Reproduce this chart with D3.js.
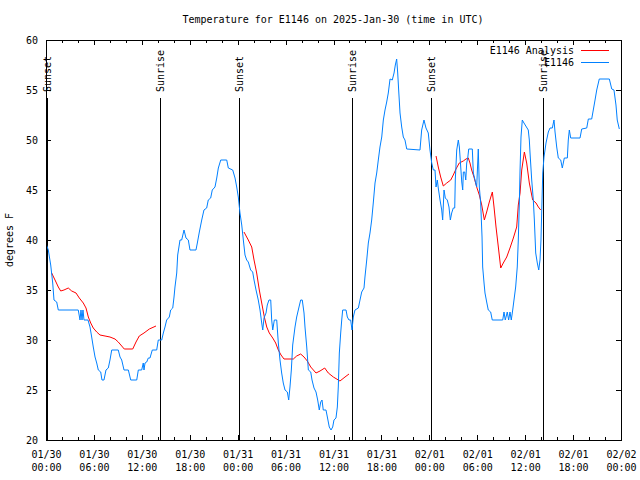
<!DOCTYPE html>
<html>
<head>
<meta charset="utf-8">
<script src="https://cdn.jsdelivr.net/npm/d3@7"></script>
<style>
  html, body { margin: 0; padding: 0; background: #fff; }
  svg { display: block; }
  text { font-family: "DejaVu Sans Mono", "Liberation Mono", monospace; font-size: 10px; fill: #000; }
</style>
</head>
<body>
<svg id="chart" width="640" height="480"></svg>
<script>
// ---------- DATA ----------
const chartTitle = "Temperature for E1146 on 2025-Jan-30 (time in UTC)";
const yAxisLabel = "degrees F";
const startUTC = Date.UTC(2025, 0, 30, 0, 0);
const spanHours = 72;
const yTickValues = [20, 25, 30, 35, 40, 45, 50, 55, 60];
const seriesNames = ["E1146 Analysis", "E1146"];

// Observations (hours after 01/30 00:00 UTC, deg F)
const obsHours = [0.06,0.29,0.59,0.84,1.0,1.34,1.54,4.04,4.26,4.38,4.51,4.63,4.76,5.26,5.51,5.72,5.92,6.14,6.35,6.55,6.85,7.01,7.26,7.51,7.8,8.01,8.23,9.05,9.27,9.48,9.77,10.31,10.61,11.36,11.56,11.98,12.18,12.27,12.4,12.61,12.81,13.02,13.31,13.86,14.06,14.49,14.69,14.9,15.11,15.44,15.61,15.87,16.03,16.15,16.37,16.49,16.78,16.99,17.28,17.53,17.82,18.03,18.78,18.95,19.2,19.5,19.78,20.12,20.32,20.62,20.82,21.16,21.38,21.58,21.88,22.63,22.83,23.38,23.67,23.88,24.08,24.29,24.51,24.71,24.92,25.13,25.33,25.63,25.88,26.05,26.3,26.58,26.8,27.01,27.14,27.3,27.55,27.71,27.92,28.14,28.26,28.39,28.59,28.89,29.09,29.3,29.51,29.71,29.93,30.22,30.39,30.55,30.72,30.89,31.18,31.39,31.68,31.89,32.09,32.31,32.43,32.65,32.85,33.15,33.31,33.56,33.81,34.02,34.22,34.4,34.56,34.72,35.06,35.23,35.47,35.69,35.9,36.06,36.31,36.48,36.6,36.73,36.9,37.03,37.15,37.57,37.73,37.94,38.15,38.32,38.48,38.69,39.11,39.32,39.53,39.82,39.94,40.16,40.36,40.57,40.78,40.98,41.2,41.41,41.61,41.82,42.04,42.24,42.45,42.66,42.86,43.08,43.36,43.58,43.74,43.91,44.04,44.16,44.33,44.54,44.74,44.95,45.17,46.83,47.04,47.33,47.58,47.87,48.08,48.3,48.5,48.71,48.84,49.0,49.12,49.34,49.55,49.67,49.84,50.0,50.25,50.46,50.63,50.8,51.0,51.18,51.25,51.43,51.63,51.76,51.93,52.06,52.18,52.26,52.43,52.56,52.68,52.81,52.93,53.38,53.51,53.72,53.93,54.13,54.26,54.43,54.6,54.68,54.85,54.97,55.18,55.38,55.68,55.88,57.19,57.35,57.51,57.76,57.93,58.1,58.26,58.44,58.6,58.81,59.01,59.14,59.27,59.36,59.48,59.64,59.85,60.39,60.52,60.61,60.82,61.02,61.15,61.32,61.52,61.7,61.86,61.98,62.11,62.2,62.36,62.61,62.9,63.11,63.4,63.61,63.74,63.95,64.15,64.45,64.65,64.9,65.28,65.4,65.53,65.7,66.87,67.08,67.71,67.91,68.33,68.53,68.75,68.96,69.28,70.54,70.84,71.12,71.37,71.53,71.79];
const obsTemps = [39.5,39,37.5,35.7,34,33.8,33,33,32,33,32,33,32,32,31.3,30.3,29.3,28.3,27.7,27,26.8,26,26,27,27.2,28,29,29,28.3,28,27,27,26,26,27,27,27.7,27,27.7,27.8,28.2,28.2,29,29,30,30,30.7,31.3,32,32.3,33,33.2,34.3,35.3,36.7,38.5,40,40,41,40.2,40,39,39,39.7,40.8,42,43,43.2,44,44.2,45,45.3,46.2,47.2,48,48,47.2,47,46.2,45.3,44.3,42.7,41.5,40,38.5,38,37.8,37,36.8,36,35,34,33,31.7,31,32.2,32.7,33.5,34,34,32,31,32,32,29.7,28,26.7,25.7,25,24.8,24,25.3,27,29.5,31.3,32.3,33.3,34,34,32.7,31.3,29.3,27,26.8,26,25.2,24.8,24,23,23.8,24,23,23,22.3,21.3,21,21.3,22,22.2,23.3,25.3,28.7,30.7,32,33,33,32.3,32,32,31,32.3,33,33.2,34,34.8,35.2,36.3,38,39.7,40.7,42,43.7,45.7,46.7,48,49.3,50.3,52,53,53.8,54.7,56.1,56,56.7,57.5,58.1,56.7,55,52.7,51.3,50.3,50,49.1,49,51,52,51.2,50.7,49,47.7,47,47,45.3,46,45.2,44,43,42,45,44.2,44,43.3,42,42.7,43.2,43.2,46,49,50,49.3,47.3,45.8,45,46.8,46.8,46,47.7,48.2,49.1,49.1,46.7,46,45.3,49.1,45.3,43.7,40.3,37.3,35.7,34.7,33.8,33,32.8,32,32,32.8,32,32.8,32,32.8,32,33,34,35.3,37.3,40,43.7,47,50.3,52,51.7,51,50,48.7,46,44,42,38.7,37.7,37,38,40,44,46.7,48.3,49.7,50.8,51.2,51.2,52,50.8,49.3,48.2,48,47.2,48.2,48.2,50,51,50.2,50.2,51.1,51.2,52.1,52.1,53,54,55,56.1,56.1,55.1,55,53.5,52,51.1];

// Analysis (night-time only; null separates the nights)
const anaHours = [0.71,1.13,1.54,1.84,2.25,2.79,3.22,3.76,4.17,4.67,5.01,5.3,5.6,5.92,6.35,6.76,7.39,8.01,8.64,9.05,9.48,9.8,10.86,11.27,11.68,12.27,12.94,13.77,
  null,
  24.79,25.33,25.76,26.05,26.38,26.71,27.01,27.34,27.64,27.96,28.39,28.76,29.09,29.43,29.8,30.97,31.39,31.89,32.31,32.72,33.15,33.81,34.31,34.9,35.35,35.98,36.81,37.44,37.94,
  null,
  48.84,49.12,49.42,49.75,50.18,50.68,51.0,51.34,51.75,52.25,52.59,52.88,53.09,53.3,53.59,53.93,54.26,54.56,54.89,55.18,55.51,55.89,56.1,56.35,56.64,56.94,57.26,57.69,58.1,58.52,58.94,59.14,59.36,59.57,59.9,60.19,60.52,60.94,61.36,61.65,61.95];
const anaTemps = [36.7,36,35.3,34.9,35,35.2,34.9,34.7,34.2,33.7,33.2,32.3,31.7,31.2,30.8,30.5,30.4,30.3,30.1,29.8,29.4,29.1,29.1,29.8,30.4,30.7,31.1,31.4,
  null,
  40.8,40,39.3,38,36.7,35,33.7,32.3,31.3,30.7,30.2,29.7,29,28.5,28.1,28.1,28.4,28.6,28.3,27.9,27.3,26.7,26.9,27.2,26.7,26.3,25.9,26.3,26.6,
  null,
  48.4,47.3,46.3,45.4,45.7,46,46.5,47.1,47.7,47.9,48.1,48.2,47.7,47,46.3,45.3,44.5,43.5,42,42.8,43.8,44.8,43.3,41.3,39.3,37.2,37.7,38.3,39.2,40.2,41.3,43.5,44.7,47,48.8,47.7,45.7,44,43.7,43.3,43];

// Sun events (hours after start)
const sunEventHours = [0.12, 14.33, 24.15, 38.29, 48.18, 62.26];
const sunEventNames = ["Sunset", "Sunrise", "Sunset", "Sunrise", "Sunset", "Sunrise"];

// ---------- DRAW ----------
const plot = { left: 46, right: 621, top: 40, bottom: 440 };
const colors = { analysis: "#ff0000", obs: "#0080ff" };
const svg = d3.select("#chart");
const hourMs = 3600 * 1000;
const toDate = h => new Date(startUTC + h * hourMs);

const x = d3.scaleUtc().domain([toDate(0), toDate(spanHours)]).range([plot.left, plot.right]);
const y = d3.scaleLinear().domain([20, 60]).range([plot.bottom, plot.top]);

const majorTicks = d3.utcHour.every(6).range(toDate(0), toDate(spanHours + 0.01));
const minorTicks = d3.utcHour.every(2).range(toDate(0), toDate(spanHours + 0.01));

function styleAxis(g) {
  g.select(".domain").remove();
  g.selectAll("line").attr("stroke", "#000").attr("shape-rendering", "crispEdges");
  g.attr("font-family", null).attr("font-size", null);
}

// minor x ticks (bottom & top)
svg.append("g").attr("transform", `translate(0,${plot.bottom})`)
  .call(d3.axisBottom(x).tickValues(minorTicks).tickSize(-3).tickFormat(""))
  .call(styleAxis);
svg.append("g").attr("transform", `translate(0,${plot.top})`)
  .call(d3.axisTop(x).tickValues(minorTicks).tickSize(-3).tickFormat(""))
  .call(styleAxis);

// major x ticks + labels
const fmtDay = d3.utcFormat("%m/%d"), fmtTime = d3.utcFormat("%H:%M");
const xb = svg.append("g").attr("transform", `translate(0,${plot.bottom})`)
  .call(d3.axisBottom(x).tickValues(majorTicks).tickSize(-5).tickPadding(0).tickFormat(""))
  .call(styleAxis);
xb.selectAll(".tick text").remove();
xb.selectAll(".tick").append("text")
  .attr("text-anchor", "middle")
  .each(function(d) {
    const t = d3.select(this);
    t.append("tspan").attr("x", 0).attr("y", 18).text(fmtDay(d));
    t.append("tspan").attr("x", 0).attr("y", 31).text(fmtTime(d));
  });
svg.append("g").attr("transform", `translate(0,${plot.top})`)
  .call(d3.axisTop(x).tickValues(majorTicks).tickSize(-5).tickFormat(""))
  .call(styleAxis);

// y axes
const yl = svg.append("g").attr("transform", `translate(${plot.left},0)`)
  .call(d3.axisLeft(y).tickValues(yTickValues).tickSize(-5).tickPadding(12))
  .call(styleAxis);
yl.selectAll(".tick text").attr("x", -8).attr("dy", "0.35em").attr("text-anchor", "end");
svg.append("g").attr("transform", `translate(${plot.right},0)`)
  .call(d3.axisRight(y).tickValues(yTickValues).tickSize(-5).tickFormat(""))
  .call(styleAxis);

// sunrise / sunset markers
const sun = svg.append("g");
sunEventHours.forEach((h, i) => {
  const sx = Math.round(x(toDate(h))) + 0.5;
  sun.append("line").attr("x1", sx).attr("x2", sx)
    .attr("y1", plot.top + 58).attr("y2", plot.bottom)
    .attr("stroke", "#000").attr("stroke-width", 1);
  sun.append("text")
    .attr("transform", `translate(${sx},${plot.top + 52}) rotate(-90)`)
    .attr("dy", "0.35em").attr("text-anchor", "start")
    .text(sunEventNames[i]);
});

// clip
svg.append("clipPath").attr("id", "clip").append("rect")
  .attr("x", plot.left).attr("y", plot.top)
  .attr("width", plot.right - plot.left).attr("height", plot.bottom - plot.top);

const line = d3.line().defined(d => d.h != null && d.v != null)
  .x(d => x(toDate(d.h))).y(d => y(d.v));

// analysis line
const anaData = anaHours.map((h, i) => ({ h, v: anaTemps[i] }));
svg.append("path").datum(anaData).attr("clip-path", "url(#clip)")
  .attr("fill", "none").attr("stroke", colors.analysis).attr("stroke-width", 1)
  .attr("d", line);

// observation line
const obsData = obsHours.map((h, i) => ({ h, v: obsTemps[i] }));
svg.append("path").datum(obsData).attr("clip-path", "url(#clip)")
  .attr("fill", "none").attr("stroke", colors.obs).attr("stroke-width", 1)
  .attr("d", line);

// frame
svg.append("rect").attr("x", plot.left + 0.5).attr("y", plot.top + 0.5)
  .attr("width", plot.right - plot.left).attr("height", plot.bottom - plot.top)
  .attr("fill", "none").attr("stroke", "#000").attr("stroke-width", 1);

// legend
const legend = svg.append("g");
[colors.analysis, colors.obs].forEach((c, i) => {
  const ly = 50 + i * 12;
  legend.append("text").attr("x", 574).attr("y", ly).attr("dy", "0.35em")
    .attr("text-anchor", "end").text(seriesNames[i]);
  legend.append("line").attr("x1", 581).attr("x2", 609).attr("y1", ly + 0.5).attr("y2", ly + 0.5)
    .attr("stroke", c).attr("stroke-width", 1);
});

// title & axis label
svg.append("text").attr("x", 333).attr("y", 23).attr("text-anchor", "middle").text(chartTitle);
svg.append("text").attr("transform", `translate(13,240) rotate(-90)`)
  .attr("text-anchor", "middle").text(yAxisLabel);
</script>
</body>
</html>
